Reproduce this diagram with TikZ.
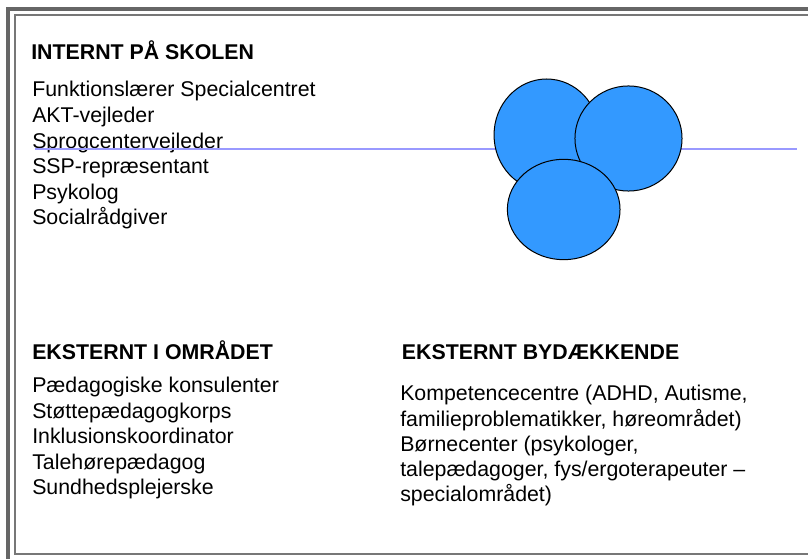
\documentclass[tikz,border=0pt]{standalone}
\usepackage{fontspec}
\setmainfont{Liberation Sans}
\usepackage{tikz}
\usetikzlibrary{shapes,positioning}
\definecolor{framegray}{RGB}{102,102,102}
\definecolor{innergray}{RGB}{119,119,119}
\definecolor{axisblue}{RGB}{153,153,255}
\definecolor{blobblue}{RGB}{51,153,255}
\tikzstyle{heading} = [anchor=base west, inner sep=0pt, font=\bfseries\fontsize{16}{19}\selectfont]
\tikzstyle{entries} = [anchor=base west, inner sep=0pt, align=left, font=\fontsize{16}{19.2}\selectfont]
\tikzstyle{blob} = [ellipse, draw=black, fill=blobblue, line width=0.75pt, inner sep=0pt]
\tikzstyle{axis} = [line width=1.1pt, color=axisblue]

\begin{document}
\begin{tikzpicture}[x=0.75pt, y=-0.75pt]
\useasboundingbox (0,0) rectangle (808,559);
% Frame
\draw[framegray, line width=3pt] (8,575) -- (8,9) -- (830,9);
\draw[innergray, line width=0.9pt] (830,554) -- (15,554) -- (15,15) -- (830,15);

% Internt (lists are anchored at the baseline of their last line)
\node (internt) [heading] at (31,59.3) {INTERNT PÅ SKOLEN};
\node (intlist) [entries] at (32,225) {Funktionslærer Specialcentret\\AKT-vejleder\\Sprogcentervejleder\\SSP-repræsentant\\Psykolog\\Socialrådgiver};

% Line and circles
\coordinate (axisL) at (35,149);
\coordinate (axisR) at (797,149);
\draw[axis] (axisL) -- (axisR);
\node (c1) [blob, minimum width=79pt, minimum height=84pt] at (546.7,135) {};
\node (c2) [blob, minimum width=80.3pt, minimum height=78.8pt] at (628.5,138.5) {};
\node (c3) [blob, minimum width=84.5pt, minimum height=75.3pt] at (563.7,209.5) {};

% Eksternt i omraadet
\node (omraade) [heading] at (32,359.3) {EKSTERNT I OMRÅDET};
\node (omrlist) [entries] at (32,495) {Pædagogiske konsulenter\\Støttepædagogkorps\\Inklusionskoordinator\\Talehørepædagog\\Sundhedsplejerske};

% Eksternt bydaekkende
\node (bydaek) [heading] at (401.7,359.3) {EKSTERNT BYDÆKKENDE};
\node (bydlist) [entries, font=\fontsize{16}{18.9}\selectfont] at (400,501.7) {Kompetencecentre (ADHD, Autisme,\\familieproblematikker, høreområdet)\\Børnecenter (psykologer,\\talepædagoger, fys/ergoterapeuter --\\specialområdet)};
\end{tikzpicture}
\end{document}
